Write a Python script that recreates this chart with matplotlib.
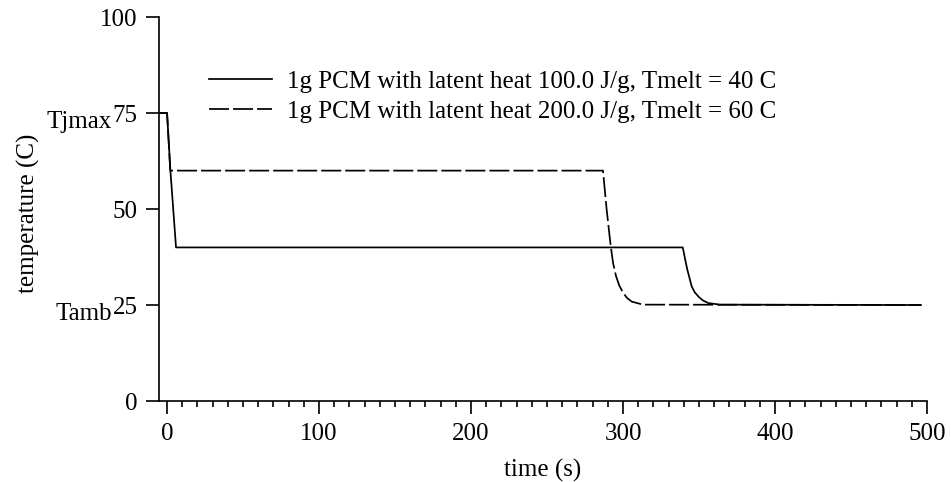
import matplotlib
matplotlib.use('Agg')
import matplotlib.pyplot as plt
from matplotlib.ticker import MultipleLocator

plt.rcParams['font.family'] = ['Liberation Serif', 'DejaVu Serif']
plt.rcParams['font.size'] = 18
plt.rcParams['lines.scale_dashes'] = False

# PCM 1: latent heat 100 J/g, Tmelt 40 C
t1 = [-5, 0, 2.2, 5.9, 339.3, 340.8, 342.3, 345.2, 347.2, 349.6, 352.5, 356.2, 363.8, 496]
T1 = [75, 75, 60, 40, 40, 37.0, 34.2, 29.8, 28.3, 27.2, 26.2, 25.5, 25.1, 25]
# PCM 2: latent heat 200 J/g, Tmelt 60 C
t2 = [-5, 0, 2.1, 286.8, 289.2, 291.9, 293.5, 295.4, 297.5, 300.0, 302.7, 305.7, 313.0, 496]
T2 = [75, 75, 60, 60, 49.9, 40.3, 35.8, 32.5, 30.1, 28.2, 26.8, 25.9, 25.1, 25]

labels = ['1g PCM with latent heat 100.0 J/g, Tmelt = 40 C',
          '1g PCM with latent heat 200.0 J/g, Tmelt = 60 C']
yticks = [0, 25, 50, 75, 100]
xticks = [0, 100, 200, 300, 400, 500]

fig = plt.figure(figsize=(9.51, 4.82), dpi=100)
ax = fig.add_axes([0.1672, 0.168, 0.8076, 0.7967])

ax.plot(t1, T1, color='black', lw=1.25, label=labels[0])
ax.plot(t2, T2, color='black', lw=1.25, linestyle=(0, (14.4, 2.9)), label=labels[1])

ax.set_xlim(-5.3, 500)
ax.set_ylim(0, 100)
ax.set_xticks(xticks)
ax.set_yticks(yticks)
ax.xaxis.set_minor_locator(MultipleLocator(10))
ax.tick_params(axis='both', which='major', direction='out', length=9.5, width=1.2)
ax.tick_params(axis='y', which='major', pad=6)
ax.tick_params(axis='x', which='major', pad=6)
ax.tick_params(axis='x', which='minor', direction='out', length=4.5, width=1.2)
for s in ['top', 'right']:
    ax.spines[s].set_visible(False)
for s in ['left', 'bottom']:
    ax.spines[s].set_linewidth(1.2)

# extra labels for Tjmax / Tamb next to the 75 / 25 ticks
for val, name in [(75, 'Tjmax'), (25, 'Tamb')]:
    ax.annotate(name, xy=(0, val), xycoords=('axes fraction', 'data'),
                xytext=(-34, -11), textcoords='offset points',
                ha='right', va='baseline')

ax.set_xlabel('time (s)', labelpad=10)
ax.set_ylabel('temperature (C)')
ax.yaxis.set_label_coords(-0.155, 0.49)

ax.legend(loc='upper left', bbox_to_anchor=(0.052, 0.888), frameon=False,
          handlelength=2.52, handletextpad=0.6, labelspacing=0.32,
          borderaxespad=0)

fig.savefig('out.png', dpi=100)
